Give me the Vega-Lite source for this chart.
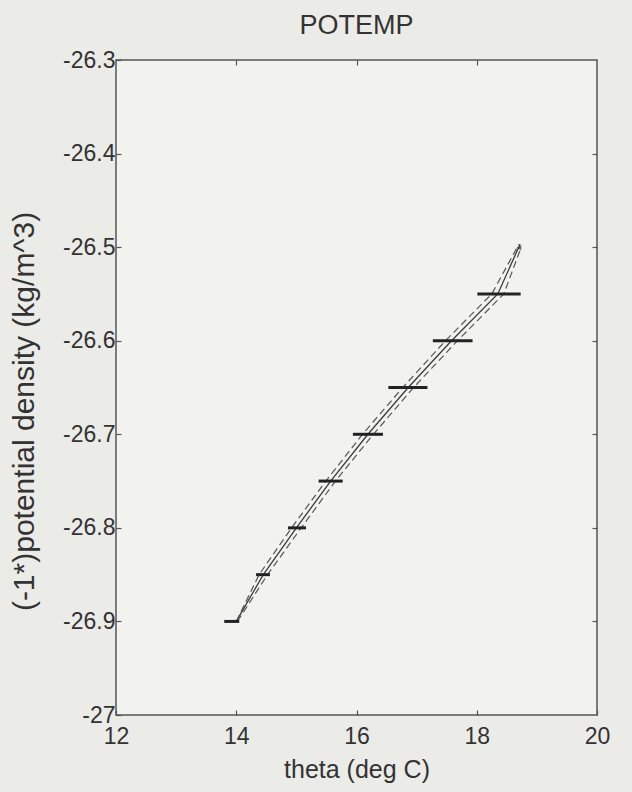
{
  "$schema": "https://vega.github.io/schema/vega-lite/v6.json",
  "autosize": "none",
  "width": 481,
  "height": 655,
  "padding": {"left": 116, "top": 60, "right": 35, "bottom": 77},
  "background": "#ebebe7",
  "title": {"text": "POTEMP", "fontSize": 27, "font": "Liberation Sans", "fontWeight": "normal", "color": "#333333", "offset": 9, "anchor": "middle"},
  "config": {
    "locale": {"number": {"decimal": ".", "thousands": ",", "grouping": [3], "currency": ["$", ""], "minus": "-"}},
    "view": {"stroke": "#555555", "strokeWidth": 1.5, "fill": "#f2f2ef"},
    "axis": {"labelFont": "Liberation Sans", "titleFont": "Liberation Sans", "labelFontSize": 23, "titleFontSize": 25, "titleFontWeight": "normal", "labelColor": "#333333", "titleColor": "#333333", "grid": false, "domain": false, "tickColor": "#555555", "tickSize": -5, "tickWidth": 1.2, "labelFlush": false}
  },
  "datasets": {
    "bars": [
      {"lo": 13.8, "hi": 14.05, "rho": -26.9},
      {"lo": 14.33, "hi": 14.56, "rho": -26.85},
      {"lo": 14.86, "hi": 15.16, "rho": -26.8},
      {"lo": 15.37, "hi": 15.77, "rho": -26.75},
      {"lo": 15.94, "hi": 16.44, "rho": -26.7},
      {"lo": 16.53, "hi": 17.18, "rho": -26.65},
      {"lo": 17.27, "hi": 17.93, "rho": -26.6},
      {"lo": 18.01, "hi": 18.73, "rho": -26.55}
    ],
    "lines": [
      {"theta": 14.0, "rho": -26.9, "s": "mean"},
      {"theta": 14.45, "rho": -26.85, "s": "mean"},
      {"theta": 15.0, "rho": -26.8, "s": "mean"},
      {"theta": 15.57, "rho": -26.75, "s": "mean"},
      {"theta": 16.19, "rho": -26.7, "s": "mean"},
      {"theta": 16.86, "rho": -26.65, "s": "mean"},
      {"theta": 17.58, "rho": -26.6, "s": "mean"},
      {"theta": 18.35, "rho": -26.55, "s": "mean"},
      {"theta": 18.72, "rho": -26.497, "s": "mean"},
      {"theta": 14.0, "rho": -26.9, "s": "left"},
      {"theta": 14.38, "rho": -26.85, "s": "left"},
      {"theta": 14.92, "rho": -26.8, "s": "left"},
      {"theta": 15.49, "rho": -26.75, "s": "left"},
      {"theta": 16.1, "rho": -26.7, "s": "left"},
      {"theta": 16.77, "rho": -26.65, "s": "left"},
      {"theta": 17.48, "rho": -26.6, "s": "left"},
      {"theta": 18.25, "rho": -26.55, "s": "left"},
      {"theta": 18.7, "rho": -26.497, "s": "left"},
      {"theta": 14.02, "rho": -26.9, "s": "right"},
      {"theta": 14.52, "rho": -26.85, "s": "right"},
      {"theta": 15.08, "rho": -26.8, "s": "right"},
      {"theta": 15.65, "rho": -26.75, "s": "right"},
      {"theta": 16.28, "rho": -26.7, "s": "right"},
      {"theta": 16.95, "rho": -26.65, "s": "right"},
      {"theta": 17.68, "rho": -26.6, "s": "right"},
      {"theta": 18.45, "rho": -26.55, "s": "right"},
      {"theta": 18.74, "rho": -26.5, "s": "right"}
    ],
    "tip": [{"theta": 18.72, "rho": -26.5}]
  },
  "layer": [
    {
      "data": {"name": "lines"},
      "transform": [{"filter": "datum.s === 'mean'"}],
      "mark": {"type": "line", "color": "#3a3a3a", "strokeWidth": 1.3},
      "encoding": {
        "x": {"field": "theta", "type": "quantitative", "scale": {"domain": [12, 20], "nice": false, "zero": false}, "axis": {"values": [12, 14, 16, 18, 20], "title": "theta (deg C)", "labelPadding": 15, "titlePadding": 9}},
        "y": {"field": "rho", "type": "quantitative", "scale": {"domain": [-27, -26.3], "nice": false, "zero": false}, "axis": {"values": [-27, -26.9, -26.8, -26.7, -26.6, -26.5, -26.4, -26.3], "format": ".1~f", "title": "(-1*)potential density (kg/m^3)", "titleFontSize": 30, "labelPadding": 6, "titlePadding": 23, "titleY": 351}},
        "order": {"field": "rho"}
      }
    },
    {
      "data": {"name": "lines"},
      "transform": [{"filter": "datum.s !== 'mean'"}],
      "mark": {"type": "line", "color": "#555555", "strokeWidth": 1.2, "strokeDash": [7, 4]},
      "encoding": {
        "x": {"field": "theta", "type": "quantitative", "axis": {"orient": "top", "values": [14, 16, 18], "labels": false, "title": null}},
        "y": {"field": "rho", "type": "quantitative", "axis": {"orient": "right", "values": [-26.9, -26.8, -26.7, -26.6, -26.5, -26.4], "labels": false, "title": null}},
        "detail": {"field": "s"},
        "order": {"field": "rho"}
      }
    },
    {
      "data": {"name": "bars"},
      "mark": {"type": "rule", "color": "#222222", "strokeWidth": 3},
      "encoding": {
        "x": {"field": "lo", "type": "quantitative", "axis": null},
        "x2": {"field": "hi"},
        "y": {"field": "rho", "type": "quantitative", "axis": null}
      }
    },
    {
      "data": {"name": "tip"},
      "mark": {"type": "point", "shape": "triangle-up", "filled": true, "color": "#333333", "size": 30, "angle": 30},
      "encoding": {
        "x": {"field": "theta", "type": "quantitative", "axis": null},
        "y": {"field": "rho", "type": "quantitative", "axis": null}
      }
    }
  ],
  "resolve": {"axis": {"x": "independent", "y": "independent"}}
}
